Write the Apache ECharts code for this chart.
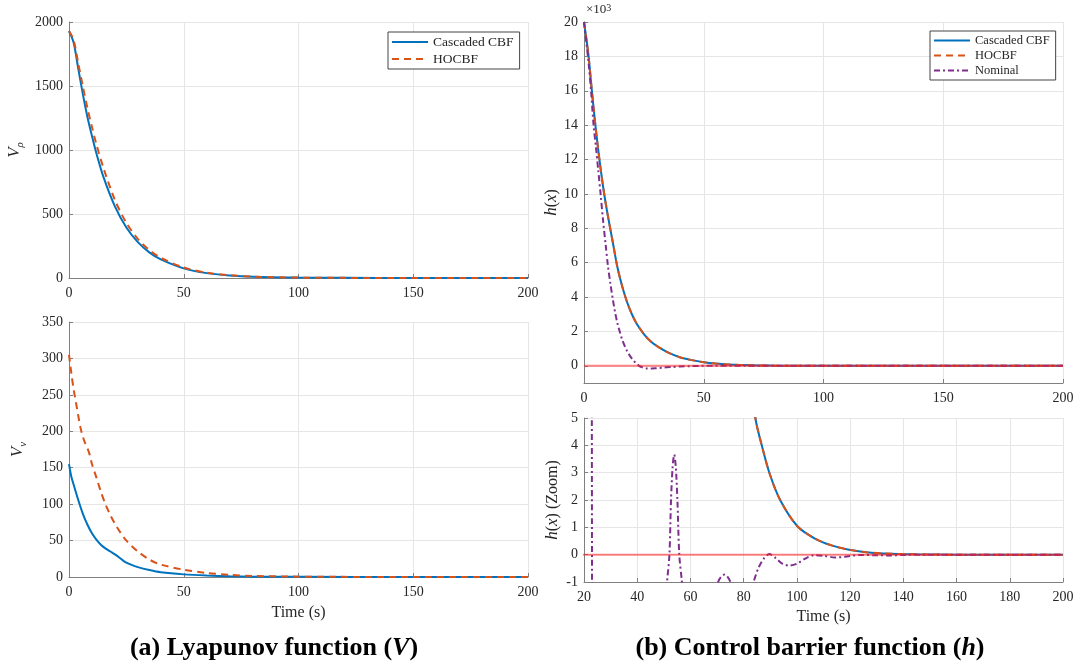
<!DOCTYPE html>
<html><head><meta charset="utf-8">
<script src="https://cdn.jsdelivr.net/npm/echarts@6/dist/echarts.min.js"></script>
<style>html,body{margin:0;padding:0;background:#fff}#c{width:1083px;height:671px}</style>
</head><body><div id="c"></div>
<script>
// ---------------- data ----------------
// (a) top: V_rho
const tRho = [0,2,4,6,8,10,12,15,20,25,30,35,40,50,60,70,80,100,120,150,200];
const rhoCascaded = [1930,1840,1640,1440,1260,1110,970,790,560,395,280,200,145,75,38,20,10,3,1,0,0];
const rhoHOCBF    = [1930,1860,1680,1500,1330,1180,1040,860,610,430,305,218,158,82,42,22,11,3,1,0,0];
// (a) bottom: V_v
const tVc = [0,1,2,4,6,8,10,12,14,16,18,20,22,24,27,30,35,40,50,60,70,80,100,150,200];
const vCascaded = [155,138,127,106,87,72,60,51,44,39,35,31,26.5,21.5,17,13.5,9.5,6.5,3.6,2,1,0.5,0.2,0,0];
const tVh = [0,1,2,3,4,5,6,7,8,9,10,12,14,16,18,20,22,25,30,35,40,50,60,70,80,100,150,200];
const vHOCBF = [305,280,258,240,222,205,193,184,177,168,155,136,116,99,85,73,63,50,35,24,17,10,5.5,3,1.5,0.5,0,0];
// (b): h(x)
const tH = [0,1,2,3,4,5,6,7,8,9,10,12,14,16,18,20,22,25,28,31,35,40,45,50,55,60,70,80,84.4,87.2,89.8,93.7,100.2,106.6,113,119.6,126,132.5,145,160,180,200];
const hCascaded = [20000,19000,17900,16400,15000,13700,12500,11400,10400,9500,8700,7200,5700,4600,3700,3000,2450,1850,1400,1100,780,500,330,210,130,80,27,8.5,5,3.85,2.95,2.0,1.04,0.6,0.34,0.18,0.09,0.045,0.012,0,0,0];
const hHOCBF    = [20000,19000,17900,16400,15000,13700,12500,11400,10400,9500,8700,7200,5700,4600,3700,3000,2450,1850,1400,1100,780,500,330,210,130,80,27,8.5,5,3.85,2.95,2.0,1.04,0.6,0.34,0.18,0.09,0.045,0.012,0,0,0];
const tN = [0,1,2,3,4,5,6,7,8,9,10,11,12,13,14,15,16,18,20,21,22,23,24,26,28,30,33,36,40,44,47,49,51.2,52.1,52.7,53.3,53.9,54.5,55.1,55.8,56.8,58,62,67,70.4,71.6,72.8,73.9,75,78,81,83.7,85.5,87.5,89.6,92,94.5,97.1,100,103,106.6,110,114.4,118,123.4,130,135,140,150,200];
const hNominal = [20000,18800,17500,15900,14000,12700,11300,9900,8400,7100,5800,4800,3900,3100,2450,1950,1500,850,420,250,120,0,-70,-150,-160,-140,-105,-75,-42,-19,-8,-3.5,-1,0,2,3.2,3.66,3.2,2,0,-1,-2.5,-3.5,-2.5,-1,-0.8,-0.73,-0.8,-1,-2,-1.8,-1,-0.5,-0.15,0.02,-0.12,-0.33,-0.4,-0.33,-0.15,-0.02,-0.04,-0.1,-0.08,-0.01,-0.02,-0.03,-0.01,0,0];
const tBoundary = [0,200];
const hBoundary = [0,0];
// tick labels
const hTicks = [0,2000,4000,6000,8000,10000,12000,14000,16000,18000,20000];

// ---------------- styling ----------------
const SERIF = "'Liberation Serif','Times New Roman',serif";
const INK = '#262626', AXIS = '#808080', GRID = '#e6e6e6';
const BLUE = '#0072BD', ORANGE = '#D95319', PURPLE = '#7E2F8E', RED = 'rgba(255,30,30,0.55)';
const zip = (t, v) => t.map((x, i) => [x, v[i]]);
const plain = v => String(v);

function xAx(grid, min, max, interval, name, gap) {
  return {
    type: 'value', gridIndex: grid, min, max, interval,
    name: name || '', nameLocation: 'middle', nameGap: gap || 0,
    nameTextStyle: { fontFamily: SERIF, fontSize: 16, color: INK },
    axisLine: { show: true, onZero: false, lineStyle: { color: AXIS } },
    axisTick: { show: true, inside: true, length: 4, lineStyle: { color: AXIS } },
    axisLabel: { fontFamily: SERIF, fontSize: 14, color: INK, margin: 8, formatter: plain },
    splitLine: { show: true, lineStyle: { color: GRID } }
  };
}
const nameRich = {
  i: { fontFamily: SERIF, fontStyle: 'italic', fontSize: 17, color: INK, lineHeight: 22 },
  s: { fontFamily: SERIF, fontStyle: 'italic', fontSize: 11, color: INK, lineHeight: 11, verticalAlign: 'bottom' },
  n: { fontFamily: SERIF, fontSize: 16, color: INK, lineHeight: 22 }
};
function yAx(grid, min, max, interval, name, gap, extra) {
  const a = {
    type: 'value', gridIndex: grid, min, max, interval,
    name, nameLocation: 'middle', nameGap: gap,
    nameTextStyle: { fontFamily: SERIF, fontSize: 16, color: INK, rich: nameRich },
    axisLine: { show: true, onZero: false, lineStyle: { color: AXIS } },
    axisTick: { show: true, inside: true, length: 4, lineStyle: { color: AXIS } },
    axisLabel: { fontFamily: SERIF, fontSize: 14, color: INK, margin: 6, formatter: plain },
    splitLine: { show: true, lineStyle: { color: GRID } }
  };
  return Object.assign(a, extra || {});
}
function line(name, data, xi, color, type, z) {
  return {
    name, type: 'line', xAxisIndex: xi, yAxisIndex: xi, data,
    showSymbol: false, symbol: 'none', smooth: 0.3, clip: true,
    lineStyle: { color, width: 2, type: type || 'solid' }, itemStyle: { color },
    z: z || 2, animation: false
  };
}
const DASH = [7, 5], DASHDOT = [6, 3, 2, 3];

const option = {
  animation: false,
  backgroundColor: '#fff',
  grid: [
    { left: 69, top: 22, width: 459, height: 256 },
    { left: 69, top: 322, width: 459, height: 255 },
    { left: 584, top: 22, width: 479, height: 361 },
    { left: 584, top: 418, width: 479, height: 164 }
  ],
  xAxis: [
    xAx(0, 0, 200, 50),
    xAx(1, 0, 200, 50, 'Time (s)', 28),
    xAx(2, 0, 200, 50),
    xAx(3, 20, 200, 20, 'Time (s)', 27)
  ],
  yAxis: [
    yAx(0, 0, 2000, 500, '{i|V}{s|ρ}', 43),
    yAx(1, 0, 350, 50, '{i|V}{s|v}', 40),
    yAx(2, -1000, 20000, null, '{i|h}{n|(}{i|x}{n|)}', 21, {
      axisLabel: { fontFamily: SERIF, fontSize: 14, color: INK, margin: 6, customValues: hTicks, formatter: v => String(v / 1000) },
      axisTick: { show: true, inside: true, length: 4, lineStyle: { color: AXIS }, customValues: hTicks }
    }),
    yAx(3, -1, 5, 1, '{i|h}{n|(}{i|x}{n|) (Zoom)}', 20)
  ],
  legend: [
    { left: 388, top: 32, orient: 'vertical', data: ['Cascaded CBF', 'HOCBF'],
      itemWidth: 36, itemHeight: 14, itemGap: 3, padding: [3, 6, 3, 3],
      itemStyle: { opacity: 0 },
      borderColor: '#444', borderWidth: 1, backgroundColor: '#fff', selectedMode: false,
      textStyle: { fontFamily: SERIF, fontSize: 13.5, color: INK } },
    { left: 930, top: 31, orient: 'vertical', data: ['Cascaded CBF', 'HOCBF', 'Nominal'],
      itemWidth: 36, itemHeight: 13, itemGap: 2, padding: [3, 6, 3, 3],
      itemStyle: { opacity: 0 },
      borderColor: '#444', borderWidth: 1, backgroundColor: '#fff', selectedMode: false,
      textStyle: { fontFamily: SERIF, fontSize: 12.5, color: INK } }
  ],
  series: [
    line('Cascaded CBF', zip(tRho, rhoCascaded), 0, BLUE),
    line('HOCBF', zip(tRho, rhoHOCBF), 0, ORANGE, DASH),
    line('Cascaded CBF', zip(tVc, vCascaded), 1, BLUE),
    line('HOCBF', zip(tVh, vHOCBF), 1, ORANGE, DASH),
    line('Cascaded CBF', zip(tH, hCascaded), 2, BLUE),
    line('HOCBF', zip(tH, hHOCBF), 2, ORANGE, DASH),
    line('Nominal', zip(tN, hNominal), 2, PURPLE, DASHDOT),
    Object.assign(line('h = 0', zip(tBoundary, hBoundary), 2, RED, 'solid', 3), { smooth: false }),
    line('Cascaded CBF', zip(tH, hCascaded), 3, BLUE),
    line('HOCBF', zip(tH, hHOCBF), 3, ORANGE, DASH),
    line('Nominal', zip(tN, hNominal), 3, PURPLE, DASHDOT),
    Object.assign(line('h = 0', zip(tBoundary, hBoundary), 3, RED, 'solid', 3), { smooth: false })
  ],
  graphic: [
    { type: 'text', x: 586, y: 3, style: { text: '×10{s|3}', fontFamily: SERIF, fontSize: 13, fill: INK,
        rich: { s: { fontFamily: SERIF, fontSize: 10, fill: INK, verticalAlign: 'top', lineHeight: 9 } } } },
    { type: 'text', x: 274, y: 648, style: { text: '(a) Lyapunov function ({i|V})', fontFamily: SERIF, fontSize: 26, fontWeight: 'bold', fill: '#000',
        align: 'center', verticalAlign: 'middle',
        rich: { i: { fontFamily: SERIF, fontSize: 26, fontWeight: 'bold', fontStyle: 'italic', fill: '#000' } } } },
    { type: 'text', x: 810, y: 648, style: { text: '(b) Control barrier function ({i|h})', fontFamily: SERIF, fontSize: 26, fontWeight: 'bold', fill: '#000',
        align: 'center', verticalAlign: 'middle',
        rich: { i: { fontFamily: SERIF, fontSize: 26, fontWeight: 'bold', fontStyle: 'italic', fill: '#000' } } } }
  ]
};
const chart = echarts.init(document.getElementById('c'));
chart.setOption(option);
</script>
</body></html>
